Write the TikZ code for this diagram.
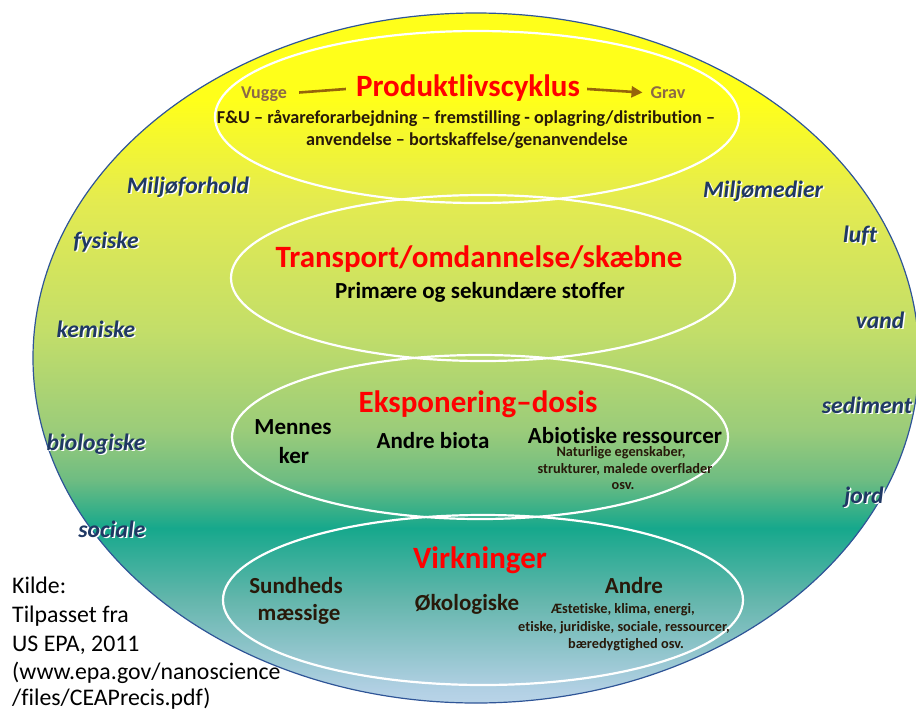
\documentclass[tikz,border=0pt]{standalone}
\usepackage{fontspec}
\setmainfont{Carlito}[Ligatures=NoCommon]
\usetikzlibrary{arrows.meta}
\definecolor{cA}{RGB}{255,255,26}
\definecolor{cB}{RGB}{228,235,80}
\definecolor{cC}{RGB}{195,222,105}
\definecolor{cD}{RGB}{155,204,122}
\definecolor{cE}{RGB}{110,188,130}
\definecolor{cF}{RGB}{22,168,140}
\definecolor{cG}{RGB}{100,182,172}
\definecolor{cH}{RGB}{178,208,228}
\definecolor{cI}{RGB}{185,212,232}
\definecolor{rimblue}{RGB}{47,85,151}
\definecolor{navy}{RGB}{31,56,100}
\definecolor{brownA}{RGB}{150,100,10}
\definecolor{brownT}{RGB}{140,105,70}
\definecolor{darkbr}{RGB}{40,25,10}
\definecolor{topred}{RGB}{255,0,0}
\pgfdeclareverticalshading{bgshade}{100bp}{color(0bp)=(cI); color(25bp)=(cI); color(25.94bp)=(cH); color(32.46bp)=(cG); color(37.68bp)=(cF); color(41.16bp)=(cE); color(44.78bp)=(cD); color(52.03bp)=(cC); color(61.45bp)=(cB); color(68.7bp)=(cA); color(75bp)=(cA); color(100bp)=(cA)}
\newcommand\shlab[1]{\makebox[0pt][l]{\hspace{1.5pt}\raisebox{-1.5pt}{\color{white}#1}}#1}
\tikzset{
  innerell/.style={draw=white, line width=2.2pt},
  title/.style={anchor=base, inner sep=0pt, text=topred, font=\fontsize{31}{33}\selectfont\bfseries},
  mid/.style={anchor=base, inner sep=0pt, text=black, font=\fontsize{23}{25}\selectfont\bfseries},
  midbr/.style={mid, text=darkbr},
  small/.style={anchor=base, inner sep=0pt, text=darkbr, font=\fontsize{14.3}{16}\selectfont\bfseries},
  lcline/.style={anchor=base, inner sep=0pt, text=darkbr, font=\fontsize{18.2}{20}\selectfont\bfseries},
  side/.style={anchor=base, inner sep=0pt, text=navy, font=\fontsize{23.6}{25}\selectfont\bfseries\itshape},
  endlab/.style={anchor=base, inner sep=0pt, text=brownT, font=\fontsize{18}{20}\selectfont\bfseries},
  src/.style={anchor=base west, inner sep=0pt, text=black, font=\fontsize{23.8}{26}\selectfont},
}
\begin{document}
\begin{tikzpicture}[x=1pt,y=1pt]
\useasboundingbox (0,0) rectangle (916,-710);
\begin{scope}
\clip (0,0) rectangle (916,-710);
\path[shading=bgshade] (476,-358) ellipse [x radius=443, y radius=345];
\draw[rimblue, line width=1.2pt] (476,-358) ellipse [x radius=443, y radius=345];
\end{scope}
% inner ellipses
\draw[innerell] (477,-117) ellipse [x radius=262, y radius=86];
\draw[innerell] (483,-278) ellipse [x radius=252, y radius=83];
\draw[innerell] (480,-437) ellipse [x radius=248, y radius=82];
\draw[innerell] (483,-600) ellipse [x radius=260, y radius=85];
% product life cycle
\node[title] (plc) at (468,-96) {Produktlivscyklus};
\node[endlab] (vugge) at (264,-98) {Vugge};
\node[endlab] (grav) at (668,-98) {Grav};
\draw[brownA, line width=2.6pt] ([xshift=12pt,yshift=5.5pt]vugge.base east) -- ([xshift=-10pt,yshift=7pt]plc.base west);
\draw[brownA, line width=2.6pt, -{Triangle[length=11pt,width=11pt]}] ([xshift=7pt,yshift=7pt]plc.base east) -- ([xshift=-8pt,yshift=5.5pt]grav.base west);
\node[lcline] (lc1) at (466,-123) {F\&U – råvareforarbejdning – fremstilling - oplagring/distribution –};
\node[lcline] (lc2) at (467,-145) {anvendelse – bortskaffelse/genanvendelse};
% transport
\node[title] (tr) at (479,-267) {Transport/omdannelse/skæbne};
\node[mid] (tr2) at (480,-298) {Primære og sekundære stoffer};
% exposure
\node[title] (ek) at (478,-412) {Eksponering–dosis};
\node[mid] (me1) at (293,-434) {Mennes};
\node[mid] (me2) at (294,-463) {ker};
\node[mid] (ab) at (433,-448) {Andre biota};
\node[mid] (abio) at (625,-443) {Abiotiske ressourcer};
\node[small] (ab1) at (621,-456) {Naturlige egenskaber,};
\node[small] (ab2) at (625,-473) {strukturer, malede overflader};
\node[small] (ab3) at (623,-489) {osv.};
% effects
\node[title] (vi) at (480,-568) {Virkninger};
\node[midbr] (su1) at (296,-593) {Sundheds};
\node[midbr] (su2) at (299,-620) {mæssige};
\node[midbr] (ok) at (467,-610) {Økologiske};
\node[midbr] (an) at (634,-593) {Andre};
\node[small] (an1) at (623,-613) {Æstetiske, klima, energi,};
\node[small] (an2) at (624,-631) {etiske, juridiske, sociale, ressourcer,};
\node[small] (an3) at (626,-648) {bæredygtighed osv.};
% side labels
\node[side] (mf) at (188,-193) {\shlab{Miljøforhold}};
\node[side] (fy) at (106,-248) {\shlab{fysiske}};
\node[side] (ke) at (96,-337) {\shlab{kemiske}};
\node[side] (bi) at (96,-450) {\shlab{biologiske}};
\node[side] (so) at (112,-537) {\shlab{sociale}};
\node[side] (mm) at (763,-197) {\shlab{Miljømedier}};
\node[side] (lu) at (860,-242) {\shlab{luft}};
\node[side] (va) at (880,-328) {\shlab{vand}};
\node[side] (se) at (867,-413) {\shlab{sediment}};
\node[side] (jo) at (864,-503) {\shlab{jord}};
% source
\node[src] (k1) at (12,-593) {Kilde:};
\node[src] (k2) at (12,-622) {Tilpasset fra};
\node[src] (k3) at (12,-651) {US EPA, 2011};
\node[src] (k4) at (12,-679) {(www.epa.gov/nanoscience};
\node[src] (k5) at (12,-705) {/files/CEAPrecis.pdf)};
\end{tikzpicture}
\end{document}
